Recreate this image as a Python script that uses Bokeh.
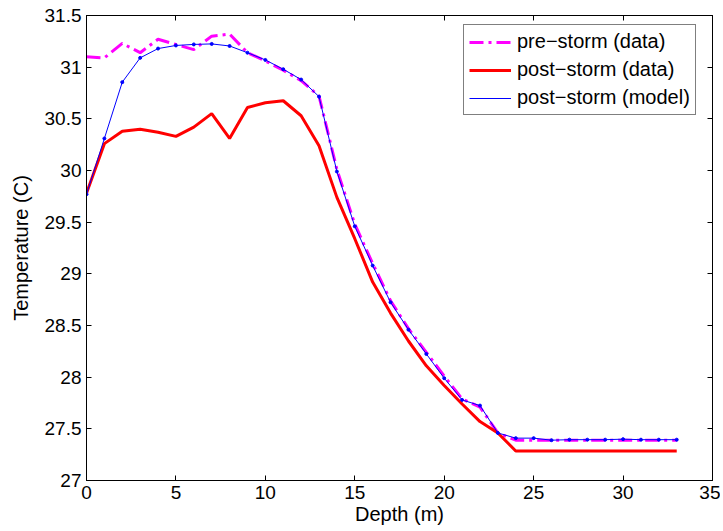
from bokeh.plotting import figure
from bokeh.models import Range1d, LinearAxis, FixedTicker, Legend, LegendItem
from bokeh.embed import file_html
from bokeh.resources import INLINE

depth = list(range(34))
pre_storm = [31.10, 31.09, 31.23, 31.14, 31.27, 31.22, 31.17, 31.30, 31.32, 31.14,
             31.06, 30.97, 30.87, 30.72, 30.01, 29.48, 29.10, 28.74, 28.47, 28.24,
             28.01, 27.79, 27.71, 27.46, 27.39, 27.39, 27.39, 27.39, 27.39, 27.39,
             27.39, 27.39, 27.39, 27.39]
post_storm = [29.78, 30.26, 30.38, 30.40, 30.37, 30.33, 30.42, 30.55, 30.31, 30.61,
              30.655, 30.675, 30.53, 30.24, 29.74, 29.34, 28.92, 28.62, 28.35, 28.11,
              27.92, 27.74, 27.57, 27.46, 27.285, 27.285, 27.285, 27.285, 27.285, 27.285,
              27.285, 27.285, 27.285, 27.285]
model = [29.77, 30.31, 30.855, 31.09, 31.18, 31.21, 31.22, 31.225, 31.205, 31.14,
         31.07, 30.98, 30.88, 30.715, 29.99, 29.46, 29.08, 28.725, 28.46, 28.225,
         27.99, 27.78, 27.725, 27.46, 27.41, 27.41, 27.39, 27.395, 27.395, 27.395,
         27.40, 27.395, 27.395, 27.395]

x_ticks = [0, 5, 10, 15, 20, 25, 30, 35]
x_tick_labels = ["0", "5", "10", "15", "20", "25", "30", "35"]
y_ticks = [27, 27.5, 28, 28.5, 29, 29.5, 30, 30.5, 31, 31.5]
y_tick_labels = ["27", "27.5", "28", "28.5", "29", "29.5", "30", "30.5", "31", "31.5"]

FONT = "Liberation Sans"
FS_TICK = "19px"
FS = "20px"

p = figure(width=720, height=531, output_backend="svg", toolbar_location=None,
           x_range=Range1d(0, 35), y_range=Range1d(27, 31.5),
           min_border_left=86, min_border_top=15, min_border_right=8, min_border_bottom=51,
           x_axis_label="Depth (m)", y_axis_label="Temperature (C)")
p.grid.visible = False
p.outline_line_color = "black"
p.background_fill_color = "white"
p.border_fill_color = "white"

for ax, ticks, labels in ((p.xaxis[0], x_ticks, x_tick_labels), (p.yaxis[0], y_ticks, y_tick_labels)):
    ax.ticker = FixedTicker(ticks=ticks)
    ax.major_label_overrides = {t: l for t, l in zip(ticks, labels)}
    ax.major_tick_in = 5
    ax.major_tick_out = 0
    ax.minor_tick_line_color = None
    ax.axis_line_color = "black"
    ax.major_tick_line_color = "black"
    ax.major_label_text_font = FONT
    ax.major_label_text_font_size = FS_TICK
    ax.major_label_text_color = "black"
    ax.axis_label_text_font = FONT
    ax.axis_label_text_font_size = FS
    ax.axis_label_text_font_style = "normal"
    ax.axis_label_text_color = "black"

p.xaxis[0].major_label_standoff = 5
p.xaxis[0].axis_label_standoff = 1
p.yaxis[0].major_label_standoff = 5
p.yaxis[0].axis_label_standoff = 10

top = LinearAxis(ticker=FixedTicker(ticks=x_ticks),
                 major_label_overrides={t: "" for t in x_ticks})
right = LinearAxis(ticker=FixedTicker(ticks=y_ticks),
                   major_label_overrides={t: "" for t in y_ticks})
for ax in (top, right):
    ax.major_tick_in = 5
    ax.major_tick_out = 0
    ax.minor_tick_line_color = None
    ax.major_label_standoff = 0
    ax.major_label_text_font_size = "1px"
    ax.axis_line_color = "black"
p.add_layout(top, "above")
p.add_layout(right, "right")

r_pre = p.line(depth, pre_storm, line_color="#ff00ff", line_width=3, line_dash="14 5 3 5")
r_post = p.line(depth, post_storm, line_color="#ff0000", line_width=3)
r_model = p.line(depth, model, line_color="#0000ff", line_width=1)
r_model_pts = p.scatter(depth, model, marker="circle", size=3, fill_color="#0000ff",
                        line_color="#0000ff")

legend = Legend(items=[
    LegendItem(label="pre\u2212storm (data)", renderers=[r_pre]),
    LegendItem(label="post\u2212storm (data)", renderers=[r_post]),
    LegendItem(label="post\u2212storm (model)", renderers=[r_model]),
], location=(377, 365))
legend.label_text_font = FONT
legend.label_text_font_size = "20px"
legend.label_text_color = "black"
legend.glyph_width = 42
legend.glyph_height = 22
legend.label_height = 22
legend.label_standoff = 6
legend.spacing = 5
legend.padding = 5
legend.margin = 0
legend.border_line_color = "black"
legend.border_line_width = 1
legend.background_fill_alpha = 1
p.add_layout(legend, "center")

open("out.html", "w").write(file_html(p, INLINE))
